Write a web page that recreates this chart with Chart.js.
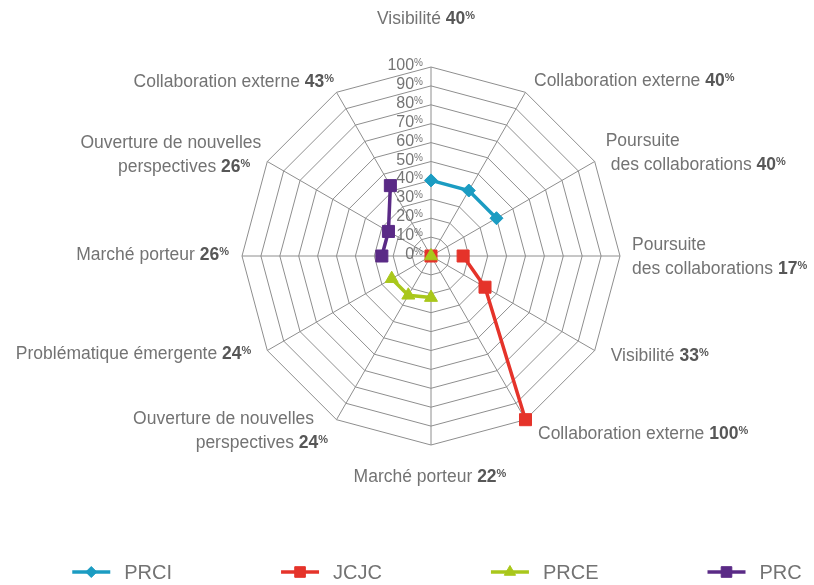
<!DOCTYPE html>
<html>
<head>
<meta charset="utf-8">
<script src="https://cdn.jsdelivr.net/npm/chart.js@4/dist/chart.umd.min.js"></script>
<style>
  html, body { margin: 0; padding: 0; background: #ffffff; }
  #wrap { width: 814px; height: 585px; }
</style>
</head>
<body>
<div id="wrap"><canvas id="radar" width="814" height="585"></canvas></div>
<script>
// Axis names (one entry per spoke, clockwise from the top) and the score shown next to each
const axisNames = [
  ['Visibilité'],
  ['Collaboration externe'],
  ['Poursuite', 'des collaborations'],
  ['Poursuite', 'des collaborations'],
  ['Visibilité'],
  ['Collaboration externe'],
  ['Marché porteur'],
  ['Ouverture de nouvelles', 'perspectives'],
  ['Problématique émergente'],
  ['Marché porteur'],
  ['Ouverture de nouvelles', 'perspectives'],
  ['Collaboration externe']
];
const axisScores = [40, 40, 40, 17, 33, 100, 22, 24, 24, 26, 26, 43];

// Series values per spoke (null = no point on that spoke)
const seriesNames = ['PRCI', 'JCJC', 'PRCE', 'PRC'];
const prciValues = [40, 40, 40, null, null, null, null, null, null, null, null, null];
const jcjcValues = [0, null, null, 17, 33, 100, null, null, null, null, null, null];
const prceValues = [0, null, null, null, null, null, 22, 24, 24, null, null, null];
const prcValues  = [null, null, null, null, null, null, null, null, null, 26, 26, 43];

// Radial tick labels
const tickValues = [0, 10, 20, 30, 40, 50, 60, 70, 80, 90, 100];

const FONT = "'Liberation Sans', Arial, Helvetica, sans-serif";
const TEXT = '#737373';
const TEXT_BOLD = '#575757';
const GRID = '#8e8e8e';

const seriesStyle = [
  { color: '#1b9cc2', pointStyle: 'rectRot', radius: 6.5, order: 1 },
  { color: '#e5332a', pointStyle: 'rect', radius: 8.5, order: 2 },
  { color: '#a9c71b', pointStyle: 'triangle', radius: 7.5, order: 0 },
  { color: '#5a2a86', pointStyle: 'rect', radius: 8.5, order: 1 }
];
const seriesData = [prciValues, jcjcValues, prceValues, prcValues];

// Placement of each spoke label relative to the outer vertex of its spoke
const labelPlace = [
  { align: 'center', dx: -5,   dy: -49 },
  { align: 'left',   dx: 8.5,  dy: -13 },
  { align: 'left',   dx: 11,   dy: -10, shift: [0, 5] },
  { align: 'left',   dx: 12,   dy: 0 },
  { align: 'left',   dx: 16,   dy: 4 },
  { align: 'left',   dx: 12.5, dy: 13 },
  { align: 'center', dx: -1,   dy: 31 },
  { align: 'right',  dx: -8.5, dy: 10, shift: [-14, 0] },
  { align: 'right',  dx: -16,  dy: 2 },
  { align: 'right',  dx: -13,  dy: -2 },
  { align: 'right',  dx: -6,   dy: -7.5, shift: [0, -11] },
  { align: 'right',  dx: -2.5, dy: -12 }
];
const LABEL_SIZE = 17.5;
const LINE_GAP = 24;

function drawSegments(ctx, segs, x, baseline, align) {
  let total = 0;
  segs.forEach(s => { ctx.font = s.font; s.w = ctx.measureText(s.text).width; total += s.w; });
  let cx = align === 'left' ? x : align === 'right' ? x - total : x - total / 2;
  ctx.textAlign = 'left';
  ctx.textBaseline = 'alphabetic';
  segs.forEach(s => {
    ctx.font = s.font;
    ctx.fillStyle = s.color;
    ctx.fillText(s.text, cx, baseline + (s.rise || 0));
    cx += s.w;
  });
}

const spokeLabels = {
  id: 'spokeLabels',
  afterDraw(chart) {
    const ctx = chart.ctx;
    const scale = chart.scales.r;
    ctx.save();
    axisNames.forEach((lines, i) => {
      const place = labelPlace[i];
      const v = scale.getPointPosition(i, scale.drawingArea);
      const n = lines.length;
      const centerY = v.y + place.dy;
      lines.forEach((line, li) => {
        const segs = [];
        if (li === n - 1) {
          segs.push({ text: line + ' ', font: `${LABEL_SIZE}px ${FONT}`, color: TEXT });
          segs.push({ text: String(axisScores[i]), font: `bold ${LABEL_SIZE}px ${FONT}`, color: TEXT_BOLD });
          segs.push({ text: '%', font: `bold 11px ${FONT}`, color: TEXT_BOLD, rise: -5 });
        } else {
          segs.push({ text: line, font: `${LABEL_SIZE}px ${FONT}`, color: TEXT });
        }
        const lineCenter = centerY + (li - (n - 1) / 2) * LINE_GAP;
        const baseline = lineCenter + LABEL_SIZE * 0.36;
        const shift = place.shift ? place.shift[li] : 0;
        drawSegments(ctx, segs, v.x + place.dx + shift, baseline, place.align);
      });
    });
    ctx.restore();
  }
};

// Percentage tick labels drawn left of the vertical spoke
const tickLabels = {
  id: 'tickLabels',
  beforeDatasetsDraw(chart) {
    const ctx = chart.ctx;
    const scale = chart.scales.r;
    ctx.save();
    tickValues.forEach(t => {
      const y = scale.yCenter - scale.getDistanceFromCenterForValue(t);
      const right = scale.xCenter - 8;
      drawSegments(ctx, [
        { text: String(t), font: `16px ${FONT}`, color: '#747474' },
        { text: '%', font: `10px ${FONT}`, color: '#747474', rise: -4 }
      ], right, y + 3, 'right');
    });
    ctx.restore();
  }
};

// Legend along the bottom: line with marker, then series name
const bottomLegend = {
  id: 'bottomLegend',
  afterDraw(chart) {
    const ctx = chart.ctx;
    const y = 572;
    const lineLen = 38, textGap = 14, itemGap = 109;
    ctx.save();
    ctx.font = `20px ${FONT}`;
    const widths = seriesNames.map(n => lineLen + textGap + ctx.measureText(n).width);
    const total = widths.reduce((a, b) => a + b, 0) + itemGap * (widths.length - 1);
    let x = 437 - total / 2;
    seriesNames.forEach((name, i) => {
      const st = seriesStyle[i];
      ctx.strokeStyle = st.color;
      ctx.lineWidth = 3.5;
      ctx.beginPath();
      ctx.moveTo(x, y);
      ctx.lineTo(x + lineLen, y);
      ctx.stroke();
      ctx.fillStyle = st.color;
      ctx.lineWidth = 1;
      Chart.helpers.drawPoint(ctx, { pointStyle: st.pointStyle, radius: st.radius - 1, borderWidth: 1, rotation: 0 }, x + lineLen / 2, y);
      ctx.fillStyle = TEXT;
      ctx.font = `20px ${FONT}`;
      ctx.textAlign = 'left';
      ctx.textBaseline = 'middle';
      ctx.fillText(name, x + lineLen + textGap, y + 1);
      x += widths[i] + itemGap;
    });
    ctx.restore();
  }
};

new Chart(document.getElementById('radar'), {
  type: 'radar',
  data: {
    labels: axisNames.map(l => l.join(' ')),
    datasets: seriesNames.map((name, i) => ({
      label: name,
      data: seriesData[i],
      order: seriesStyle[i].order,
      borderColor: seriesStyle[i].color,
      backgroundColor: seriesStyle[i].color,
      pointBackgroundColor: seriesStyle[i].color,
      pointBorderColor: seriesStyle[i].color,
      pointBorderWidth: 1,
      pointStyle: seriesStyle[i].pointStyle,
      pointRadius: seriesStyle[i].radius,
      borderWidth: 3.5,
      fill: false,
      spanGaps: false,
      tension: 0
    }))
  },
  options: {
    responsive: false,
    animation: false,
    devicePixelRatio: 1,
    layout: { padding: { top: 67, bottom: 140, left: 100, right: 52 } },
    plugins: {
      legend: { display: false },
      tooltip: { enabled: false }
    },
    scales: {
      r: {
        min: 0,
        max: 100,
        startAngle: 0,
        ticks: { stepSize: 10, display: false },
        grid: { color: GRID, lineWidth: 1, circular: false },
        angleLines: { color: GRID, lineWidth: 1 },
        pointLabels: { display: false }
      }
    }
  },
  plugins: [tickLabels, spokeLabels, bottomLegend]
});
</script>
</body>
</html>
